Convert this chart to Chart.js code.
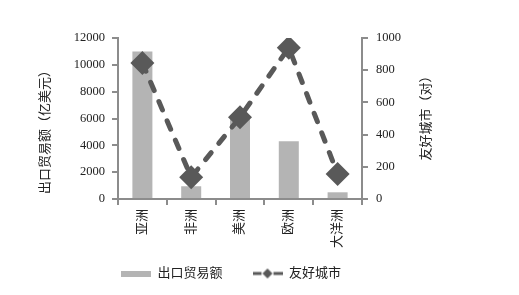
<!DOCTYPE html>
<html>
<head>
<meta charset="utf-8">
<script src="https://cdn.jsdelivr.net/npm/chart.js@4.4.1/dist/chart.umd.min.js"></script>
<style>
  html, body { margin: 0; padding: 0; background: #fff; }
  #wrap { width: 519px; height: 295px; }
</style>
</head>
<body>
<div id="wrap"><canvas id="myGraph" width="519" height="295"></canvas></div>
<script>
let regions = ['亚洲', '非洲', '美洲', '欧洲', '大洋洲'];
let exportTrade = [11000, 950, 6000, 4300, 500];
let friendCities = [845, 135, 508, 940, 156];
let leftTicks = [0, 2000, 4000, 6000, 8000, 10000, 12000];
let rightTicks = [0, 200, 400, 600, 800, 1000];

const fontFamily = '"Liberation Serif", "Noto Sans CJK SC", serif';
const barColor = '#b4b4b4';
const lineColor = '#595959';
const axisColor = '#8c8c8c';

function barSwatch() {
    let c = document.createElement('canvas');
    c.width = 30; c.height = 6;
    let g = c.getContext('2d');
    g.fillStyle = barColor;
    g.fillRect(0, 0, 30, 6);
    return c;
}

function lineSwatch() {
    let c = document.createElement('canvas');
    c.width = 30; c.height = 12;
    let g = c.getContext('2d');
    g.strokeStyle = lineColor;
    g.lineWidth = 3;
    g.beginPath();
    g.moveTo(0, 6); g.lineTo(9, 6);
    g.moveTo(21, 6); g.lineTo(30, 6);
    g.stroke();
    g.fillStyle = lineColor;
    g.beginPath();
    g.moveTo(15, 1); g.lineTo(20, 6); g.lineTo(15, 11); g.lineTo(10, 6);
    g.closePath();
    g.fill();
    return c;
}

// axis titles, both read bottom-to-top like the original
const axisTitles = {
    id: 'axisTitles',
    afterDraw(chart) {
        const ctx = chart.ctx;
        ctx.save();
        ctx.fillStyle = '#222';
        ctx.font = '13px ' + fontFamily;
        ctx.textAlign = 'center';
        ctx.textBaseline = 'middle';
        [['出口贸易额（亿美元）', 46, 129], ['友好城市（对）', 427, 115]].forEach(function (t) {
            ctx.save();
            ctx.translate(t[1], t[2]);
            ctx.rotate(-Math.PI / 2);
            ctx.fillText(t[0], 0, 0);
            ctx.restore();
        });
        ctx.restore();
    }
};

const plainNumber = function (value) { return String(value); };

const ctx = document.getElementById('myGraph').getContext('2d');
let chart = new Chart(ctx, {
    type: 'bar',
    data: {
        labels: regions,
        datasets: [
            {
                label: '出口贸易额',
                data: exportTrade,
                backgroundColor: barColor,
                categoryPercentage: 1,
                barPercentage: 0.41,
                yAxisID: 'y',
                order: 2
            },
            {
                type: 'line',
                label: '友好城市',
                data: friendCities,
                borderColor: lineColor,
                borderWidth: 5,
                borderDash: [9, 12],
                borderCapStyle: 'round',
                pointStyle: 'rectRot',
                pointRadius: 12,
                pointHoverRadius: 12,
                pointBorderWidth: 0,
                pointBackgroundColor: lineColor,
                tension: 0,
                yAxisID: 'y1',
                order: 1
            }
        ]
    },
    options: {
        responsive: false,
        animation: false,
        layout: { padding: { left: 0, right: 57, top: 38, bottom: 5 } },
        plugins: {
            tooltip: { enabled: false },
            legend: {
                position: 'bottom',
                labels: {
                    usePointStyle: true,
                    pointStyleWidth: 30,
                    padding: 30,
                    color: '#222',
                    font: { family: fontFamily, size: 13 },
                    generateLabels(chart) {
                        let items = Chart.defaults.plugins.legend.labels.generateLabels(chart);
                        items.sort(function (a, b) { return a.datasetIndex - b.datasetIndex; });
                        items[0].pointStyle = barSwatch();
                        items[1].pointStyle = lineSwatch();
                        return items;
                    }
                }
            }
        },
        scales: {
            x: {
                grid: { display: true, drawOnChartArea: false, drawTicks: true, tickLength: 6, color: axisColor, lineWidth: 2, offset: true },
                border: { display: true, color: axisColor, width: 2 },
                ticks: {
                    color: '#222',
                    font: { family: fontFamily, size: 13 },
                    minRotation: 90,
                    maxRotation: 90,
                    padding: 4
                },
                afterFit(scale) {
                    scale.height = 38;
                    // let the long rotated label run past the short axis box
                    scale._computeLabelArea = function () { return undefined; };
                }
            },
            y: {
                position: 'left',
                min: 0,
                max: 12000,
                afterBuildTicks(scale) { scale.ticks = leftTicks.map(v => ({ value: v })); },
                grid: { display: true, drawOnChartArea: false, drawTicks: true, tickLength: 6, color: axisColor, lineWidth: 2 },
                border: { display: true, color: axisColor, width: 2 },
                ticks: { color: '#222', font: { family: fontFamily, size: 12.5 }, padding: 7, callback: plainNumber },
                afterFit(scale) { scale.width = 118; }
            },
            y1: {
                position: 'right',
                min: 0,
                max: 1000,
                afterBuildTicks(scale) { scale.ticks = rightTicks.map(v => ({ value: v })); },
                grid: { display: true, drawOnChartArea: false, drawTicks: true, tickLength: 6, color: axisColor, lineWidth: 2 },
                border: { display: true, color: axisColor, width: 2 },
                ticks: { color: '#222', font: { family: fontFamily, size: 12.5 }, padding: 8, callback: plainNumber },
                afterFit(scale) { scale.width = 100; }
            }
        }
    },
    plugins: [axisTitles]
});
</script>
</body>
</html>
